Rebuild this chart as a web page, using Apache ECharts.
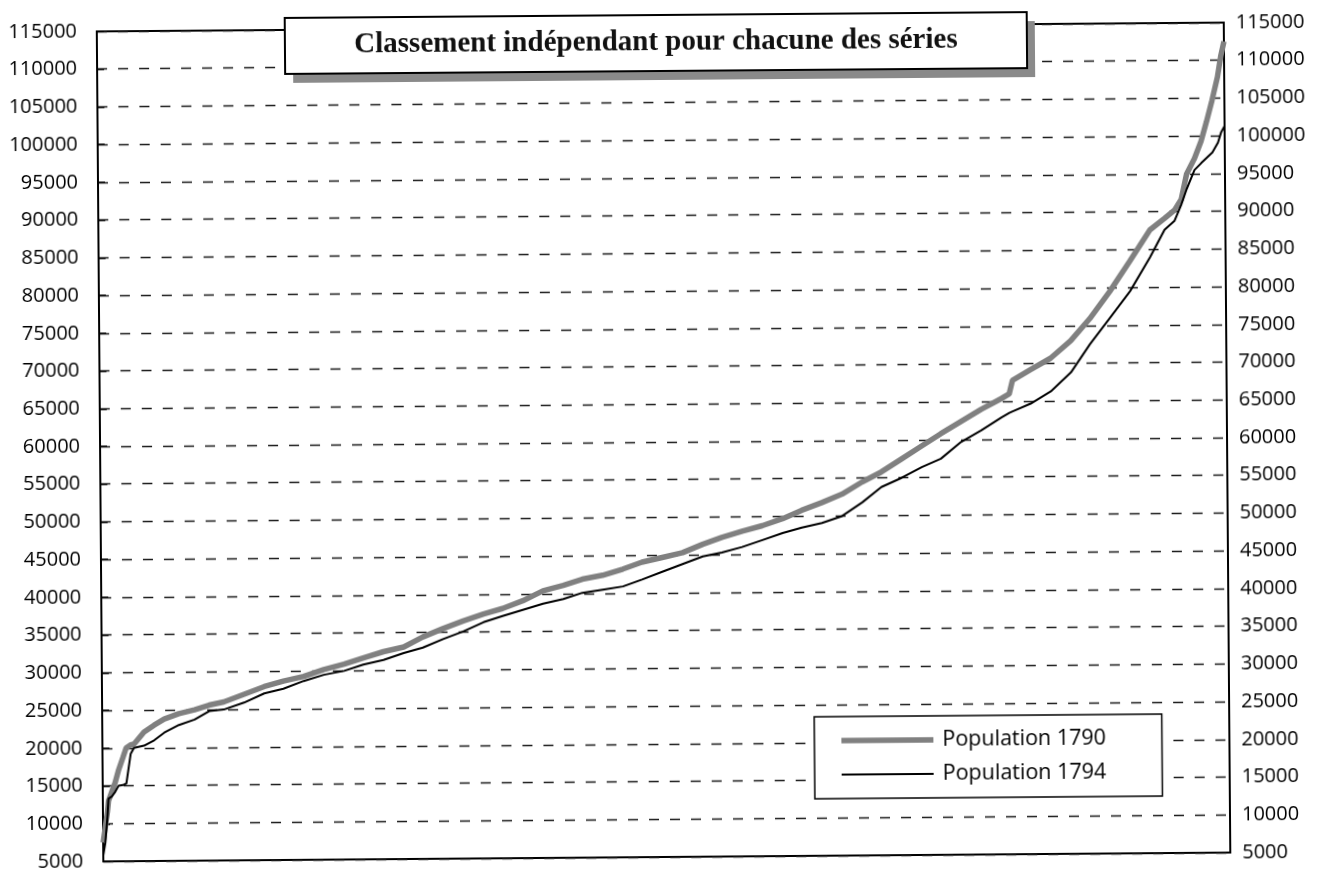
<!DOCTYPE html>
<html>
<head>
<meta charset="utf-8">
<script src="https://cdn.jsdelivr.net/npm/echarts@6/dist/echarts.min.js"></script>
<style>
  html, body { margin: 0; padding: 0; background: #fff; overflow: hidden; }
  #chart { width: 1323px; height: 872px; transform: rotate(-0.45deg); transform-origin: 50% 50%; }
</style>
</head>
<body>
<div id="chart"></div>
<script>
// Rang de chaque unité, en % du classement (0 = plus petite, 100 = plus grande)
const rangs = [0, 0.2, 0.4, 0.5, 0.8, 1.1, 1.4, 1.8, 2.1, 2.5,
  2.8, 3.7, 4.6, 5.5, 6.8, 8.2, 9.5, 10.8, 12.6, 14.4,
  16.1, 17.9, 19.7, 21.5, 23.2, 25.0, 26.8, 28.5, 30.3, 32.1,
  33.9, 35.6, 37.4, 39.2, 41.0, 42.7, 44.5, 46.3, 48.0, 49.8,
  51.6, 53.4, 55.1, 56.9, 58.7, 60.5, 62.2, 64.0, 65.8, 67.6,
  69.3, 71.1, 72.9, 74.6, 76.4, 78.2, 80.0, 80.7, 81.0, 82.6,
  84.4, 86.2, 87.9, 89.7, 91.5, 93.3, 94.6, 95.5, 96.1, 96.6,
  97.3, 97.9, 98.4, 98.9, 99.4, 99.7, 100];

// Populations classées par ordre croissant, chaque série indépendamment
const population1790 = [7500, 9500, 11500, 13000, 14200, 15400, 17000, 18700, 20000, 20400,
  20500, 22100, 23000, 23800, 24500, 25000, 25600, 26000, 27000, 28000,
  28700, 29300, 30200, 30900, 31700, 32500, 33100, 34400, 35500, 36500,
  37400, 38100, 39100, 40400, 41100, 41900, 42400, 43200, 44100, 44700,
  45300, 46400, 47300, 48100, 48800, 49700, 50800, 51800, 52900, 54500,
  55800, 57500, 59200, 60800, 62400, 64000, 65400, 66000, 67800, 69200,
  70700, 73000, 75900, 79500, 83500, 87600, 89100, 90200, 91600, 95000,
  97000, 99300, 101900, 104700, 107800, 110500, 112500];

const population1794 = [5800, 7500, 11000, 13300, 13600, 14200, 15000, 15100, 15300, 19200,
  20000, 20300, 21000, 22000, 23000, 23700, 24800, 25000, 25900, 27100,
  27700, 28700, 29500, 30000, 30800, 31400, 32300, 33000, 34100, 35100,
  36300, 37100, 37900, 38700, 39300, 40100, 40500, 40900, 41800, 42800,
  43800, 44800, 45300, 46000, 46900, 47800, 48500, 49100, 50000, 51800,
  53800, 55000, 56400, 57500, 59700, 61200, 62900, 63500, 63700, 64700,
  66300, 68800, 72500, 76000, 79500, 84000, 87600, 88800, 90900, 93000,
  95500, 96400, 97100, 97800, 99100, 100500, 101300];

const seriesNames = ['Population 1790', 'Population 1794'];
const titre = 'Classement indépendant pour chacune des séries';

const yMin = 5000, yMax = 115000, yStep = 5000;

const sansFont = '"Open Sans", "Noto Sans", sans-serif';
const grisEpais = '#808080';
const chart = echarts.init(document.getElementById('chart'), null, { renderer: 'canvas' });

const gridLeft = 100, gridTop = 27, gridRight = 96, gridBottom = 15;
const plainNumber = v => String(v);

chart.setOption({
  animation: false,
  backgroundColor: '#fff',
  title: {
    text: titre,
    left: 659,
    textAlign: 'center',
    top: 28,
    padding: 0,
    z: 20,
    textStyle: {
      fontFamily: '"Liberation Serif", "DejaVu Serif", serif',
      fontWeight: 'bold',
      fontSize: 29,
      color: '#111'
    }
  },
  graphic: [
    { type: 'rect', z: 15, shape: { x: 296, y: 24, width: 742, height: 56 }, style: { fill: '#8a8a8a' } },
    { type: 'rect', z: 16, shape: { x: 288, y: 15, width: 742, height: 56 }, style: { fill: '#fff', stroke: '#000', lineWidth: 2 } }
  ],
  legend: {
    orient: 'vertical',
    left: 812,
    top: 718,
    padding: [13, 56, 13, 27],
    itemGap: 12,
    itemWidth: 92,
    itemHeight: 22,
    symbolKeepAspect: true,
    borderColor: '#000',
    borderWidth: 1.5,
    backgroundColor: '#fff',
    z: 10,
    textStyle: { fontFamily: sansFont, fontSize: 21.5, color: '#000', padding: [0, 0, 0, 4] },
    data: [
      { name: seriesNames[0], icon: 'path://M0,0h92v5.5h-92z' },
      { name: seriesNames[1], icon: 'path://M0,0h92v2h-92z' }
    ]
  },
  grid: {
    left: gridLeft, right: gridRight, top: gridTop, bottom: gridBottom,
    show: true, borderColor: '#000', borderWidth: 2, backgroundColor: 'transparent'
  },
  xAxis: {
    type: 'value', min: 0, max: 100,
    axisLine: { show: false }, axisTick: { show: false },
    axisLabel: { show: false }, splitLine: { show: false }
  },
  yAxis: [
    {
      type: 'value', position: 'left', min: yMin, max: yMax, interval: yStep,
      axisLine: { show: true, lineStyle: { color: '#000', width: 2 } },
      axisTick: { show: true, inside: true, length: 7, lineStyle: { color: '#000', width: 1.5 } },
      axisLabel: { fontFamily: sansFont, fontSize: 20, color: '#000', margin: 20, formatter: plainNumber },
      splitLine: { show: true, lineStyle: { color: '#1a1a1a', width: 1.3, type: [10, 11] } }
    },
    {
      type: 'value', position: 'right', min: yMin, max: yMax, interval: yStep,
      axisLine: { show: true, lineStyle: { color: '#000', width: 2 } },
      axisTick: { show: false },
      axisLabel: { fontFamily: sansFont, fontSize: 20, color: '#000', margin: 12, formatter: plainNumber },
      splitLine: { show: false }
    }
  ],
  series: [
    {
      name: seriesNames[0], type: 'line', yAxisIndex: 0,
      symbol: 'none', showSymbol: false,
      lineStyle: { color: grisEpais, width: 5.5 },
      itemStyle: { color: grisEpais },
      data: rangs.map((r, i) => [r, population1790[i]])
    },
    {
      name: seriesNames[1], type: 'line', yAxisIndex: 0,
      symbol: 'none', showSymbol: false,
      lineStyle: { color: '#000', width: 2 },
      itemStyle: { color: '#000' },
      data: rangs.map((r, i) => [r, population1794[i]])
    }
  ]
});
</script>
</body>
</html>
